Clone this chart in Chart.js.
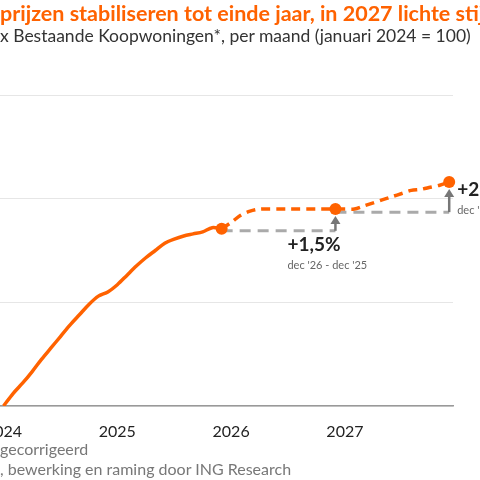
<!DOCTYPE html>
<html>
<head>
<meta charset="utf-8">
<script src="https://cdn.jsdelivr.net/npm/chart.js@4"></script>
<style>
  body { margin: 0; width: 480px; height: 480px; overflow: hidden; position: relative; font-family: Lato, "Noto Sans", sans-serif; background: #fff; }
  .txt { position: absolute; left: 0; white-space: nowrap; }
  .pre { position: absolute; right: 100%; }
  #title { top: 0px; font-size: 21.5px; font-weight: bold; color: #ff6200; }
  #sub { top: 25px; font-size: 17.5px; color: #333; }
  .foot { font-size: 16px; color: #777; }
  #wrap { position: absolute; left: -23px; top: 0; width: 560px; height: 480px; }
</style>
</head>
<body>
<div id="wrap"><canvas id="c" width="560" height="480"></canvas></div>
<div class="txt" id="title"><span class="pre">Huizen</span>prijzen stabiliseren tot einde jaar, in 2027 lichte stijging</div>
<div class="txt" id="sub"><span class="pre">Prijsinde</span>x Bestaande Koopwoningen*, per maand (januari 2024 = 100)</div>
<div class="txt foot" style="top:439px"><span class="pre">* Seizoens</span>gecorrigeerd</div>
<div class="txt foot" style="top:459px"><span class="pre">Bron: CBS</span>, bewerking en raming door ING Research</div>
<script>
// maanden vanaf januari 2024 (0) t/m december 2027 (47)
const actual = [100, 101.2, 102.2, 103.3, 104.5, 105.6, 106.7, 107.8, 108.8, 109.8, 110.6, 111.0,
                111.7, 112.6, 113.5, 114.3, 115.0, 115.7, 116.1, 116.4, 116.6, 116.8, 117.2, 117.1];
const forecast = [117.1, 117.7, 118.4, 118.8, 119.0, 119.0, 119.0, 119.0, 119.0, 119.0, 119.0, 119.0, 119.0,
                  119.0, 119.0, 119.3, 119.6, 119.9, 120.2, 120.5, 120.8, 120.9, 121.1, 121.3, 121.6];
const forecastStart = 23;
const baseline1 = { from: 23, to: 35, value: 116.9 };
const baseline2 = { from: 35, to: 47, value: 118.7 };
const markers = [23, 35, 47];
const yearTicks = [0, 12, 24, 36];
const yearLabels = ['2024', '2025', '2026', '2027'];
const notes = [
    { m: 35, big: '+1,5%', small: "dec '26 - dec '25", dx: -48, dy: 22 },
    { m: 47, big: '+2%', small: "dec '27 - dec '26", dx: 8, dy: -6 }
];

const orange = '#ff6200';
const allVals = actual.concat(forecast.slice(1));

const annot = {
    id: 'annot',
    afterDatasetsDraw(chart) {
        const { ctx, scales: { x, y } } = chart;
        ctx.save();
        [baseline1, baseline2].forEach(b => {
            const px = x.getPixelForValue(b.to);
            const y0 = y.getPixelForValue(b.value);
            const y1 = y.getPixelForValue(allVals[b.to]) + 9;
            ctx.strokeStyle = '#777'; ctx.fillStyle = '#777'; ctx.lineWidth = 2.5;
            ctx.beginPath(); ctx.moveTo(px, y0); ctx.lineTo(px, y1 + 4); ctx.stroke();
            ctx.beginPath(); ctx.moveTo(px - 5, y1 + 6); ctx.lineTo(px + 5, y1 + 6); ctx.lineTo(px, y1 - 2); ctx.fill();
        });
        notes.forEach(n => {
            const px = x.getPixelForValue(n.m) + n.dx;
            const py = y.getPixelForValue(allVals[n.m]) + n.dy;
            ctx.fillStyle = '#222'; ctx.font = 'bold 19px Lato, "Noto Sans"'; ctx.textBaseline = 'middle';
            ctx.fillText(n.big, px, py + 14);
            ctx.fillStyle = '#666'; ctx.font = '11px Lato, "Noto Sans"';
            ctx.fillText(n.small, px, py + 34);
        });
        markers.forEach(m => {
            ctx.fillStyle = orange;
            ctx.beginPath(); ctx.arc(x.getPixelForValue(m), y.getPixelForValue(allVals[m]), 6, 0, Math.PI * 2); ctx.fill();
        });
        ctx.restore();
    }
};

new Chart(document.getElementById('c'), {
    type: 'line',
    data: {
        datasets: [{
            data: actual.map((v, i) => ({ x: i, y: v })),
            borderColor: orange, borderWidth: 3.5, pointRadius: 0, tension: 0.3
        }, {
            data: forecast.map((v, i) => ({ x: i + forecastStart, y: v })),
            borderColor: orange, borderWidth: 3.5, borderDash: [9, 6], pointRadius: 0, tension: 0.3
        }, {
            data: [{ x: baseline1.from, y: baseline1.value }, { x: baseline1.to, y: baseline1.value }],
            borderColor: '#aaa', borderWidth: 3, borderDash: [11, 7], pointRadius: 0
        }, {
            data: [{ x: baseline2.from, y: baseline2.value }, { x: baseline2.to, y: baseline2.value }],
            borderColor: '#aaa', borderWidth: 3, borderDash: [11, 7], pointRadius: 0
        }]
    },
    options: {
        animation: false, responsive: false, maintainAspectRatio: false,
        layout: { padding: { top: 95, right: 84, left: 0, bottom: 0 } },
        plugins: { legend: { display: false }, tooltip: { enabled: false } },
        scales: {
            x: {
                type: 'linear', min: -1, max: 47.4,
                afterBuildTicks: s => { s.ticks = yearTicks.map(v => ({ value: v })); },
                afterFit: s => { s.height = 74; },
                ticks: { callback: (v) => yearLabels[yearTicks.indexOf(v)], color: '#222', font: { size: 16, family: 'Lato' }, padding: 8, maxRotation: 0 },
                grid: { display: false },
                border: { color: '#999', width: 1.5 }
            },
            y: {
                min: 100, max: 130,
                afterFit: s => { s.width = 0; },
                ticks: { display: false, stepSize: 10 },
                grid: { color: '#e6e6e6', drawTicks: false },
                border: { display: false }
            }
        }
    },
    plugins: [annot]
});
</script>
</body>
</html>
